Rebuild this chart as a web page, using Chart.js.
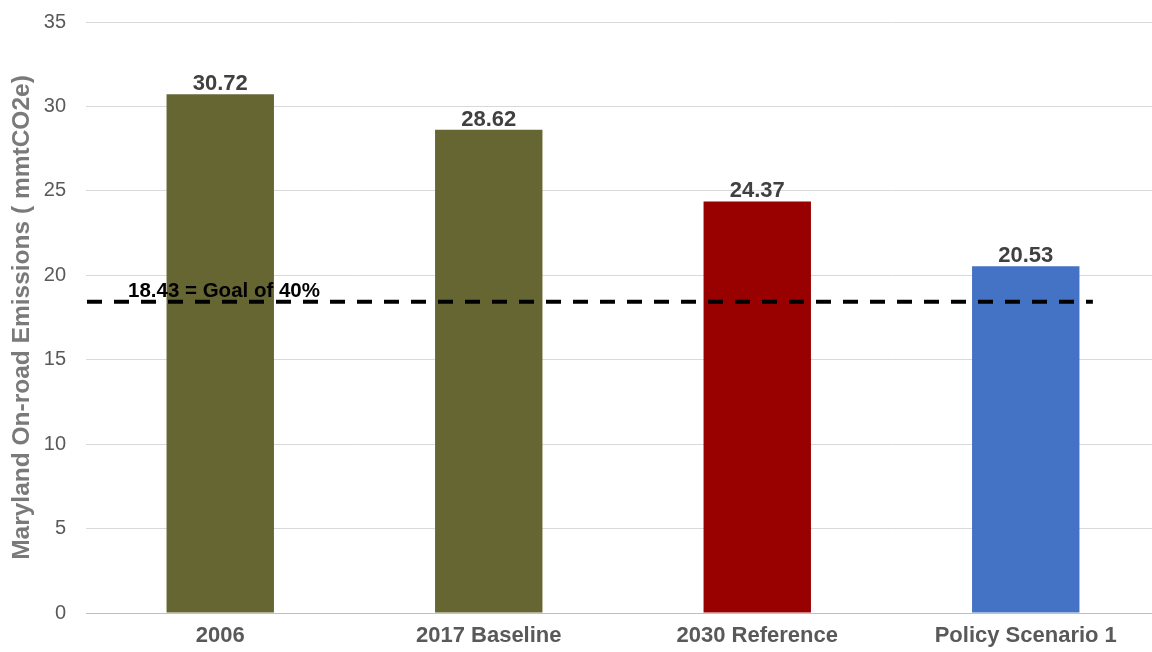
<!DOCTYPE html>
<html>
<head>
<meta charset="utf-8">
<script src="https://cdn.jsdelivr.net/npm/chart.js@4.4.0/dist/chart.umd.min.js"></script>
<style>
  html, body { margin: 0; padding: 0; overflow: hidden; background: #ffffff; width: 1152px; height: 652px; }
  #wrap { position: relative; width: 1160px; height: 652px; }
</style>
</head>
<body>
<div id="wrap"><canvas id="c" width="1160" height="652"></canvas></div>
<script>
// Maryland on-road emissions by scenario (mmtCO2e)
const categories = ['2006', '2017 Baseline', '2030 Reference', 'Policy Scenario 1'];
const emissions = [30.72, 28.62, 24.37, 20.53];
const barColors = ['#666633', '#666633', '#990000', '#4472C4'];
const yTicks = [0, 5, 10, 15, 20, 25, 30, 35];
const goalValue = [18.43];
const goalLabel = ['18.43 = Goal of 40%'];
const yTitle = 'Maryland On-road Emissions ( mmtCO2e)';

const FONT = '"Liberation Sans", Arial, Helvetica, sans-serif';

// value labels above each bar
const valueLabels = {
  id: 'valueLabels',
  afterDatasetsDraw(chart) {
    const { ctx } = chart;
    const meta = chart.getDatasetMeta(0);
    ctx.save();
    ctx.font = 'bold 22px ' + FONT;
    ctx.fillStyle = '#404040';
    ctx.textAlign = 'center';
    ctx.textBaseline = 'alphabetic';
    meta.data.forEach((bar, i) => {
      ctx.fillText(emissions[i].toFixed(2), bar.x, bar.y - 4);
    });
    ctx.restore();
  }
};

// dashed goal line with its caption
const goalLine = {
  id: 'goalLine',
  afterDatasetsDraw(chart) {
    const { ctx, chartArea, scales } = chart;
    const yPix = scales.y.getPixelForValue(goalValue[0]);
    const xStart = chartArea.left + 1;
    const xEnd = scales.x.getPixelForValue(categories.length - 1 + 0.25);
    ctx.save();
    ctx.strokeStyle = '#000000';
    ctx.lineWidth = 4;
    ctx.setLineDash([15, 12]);
    ctx.beginPath();
    ctx.moveTo(xStart, yPix);
    ctx.lineTo(xEnd, yPix);
    ctx.stroke();
    ctx.setLineDash([]);
    ctx.font = 'bold 20.5px ' + FONT;
    ctx.fillStyle = '#000000';
    ctx.textAlign = 'left';
    ctx.textBaseline = 'alphabetic';
    ctx.fillText(goalLabel[0], chartArea.left + 42, yPix - 4.5);
    ctx.restore();
  }
};

new Chart(document.getElementById('c'), {
  type: 'bar',
  data: {
    labels: categories,
    datasets: [{
      data: emissions,
      backgroundColor: barColors,
      borderWidth: 0,
      categoryPercentage: 1.0,
      barPercentage: 0.4
    }]
  },
  options: {
    responsive: false,
    animation: false,
    devicePixelRatio: 1,
    layout: { padding: { top: 22, right: 0, left: 0, bottom: 0 } },
    plugins: {
      legend: { display: false },
      tooltip: { enabled: false },
      title: { display: false }
    },
    scales: {
      x: {
        grid: { display: false, drawTicks: false },
        border: { display: true, color: '#bfbfbf', width: 1 },
        ticks: {
          color: '#595959',
          font: { family: FONT, size: 22, weight: 'bold' },
          padding: 10,
          maxRotation: 0,
          autoSkip: false
        },
        afterFit(scale) {
          scale.height = 39;
          scale.paddingLeft = 0;
          scale.paddingRight = 0;
        }
      },
      y: {
        min: 0,
        max: 35,
        grid: {
          color: (c) => (c.tick && c.tick.value === 0 ? '#bfbfbf' : '#d9d9d9'),
          lineWidth: 1,
          drawTicks: false
        },
        border: { display: false },
        ticks: {
          color: '#595959',
          font: { family: FONT, size: 20 },
          padding: 20
        },
        afterBuildTicks(scale) { scale.ticks = yTicks.map(v => ({ value: v })); },
        title: {
          display: true,
          text: yTitle,
          color: '#7a7a7a',
          font: { family: FONT, size: 24.5, weight: 'bold' },
          padding: { top: 8, bottom: 0 }
        },
        afterFit(scale) {
          scale.width = 86;
          scale.paddingTop = 0;
          scale.paddingBottom = 0;
        }
      }
    }
  },
  plugins: [valueLabels, goalLine]
});
</script>
</body>
</html>
